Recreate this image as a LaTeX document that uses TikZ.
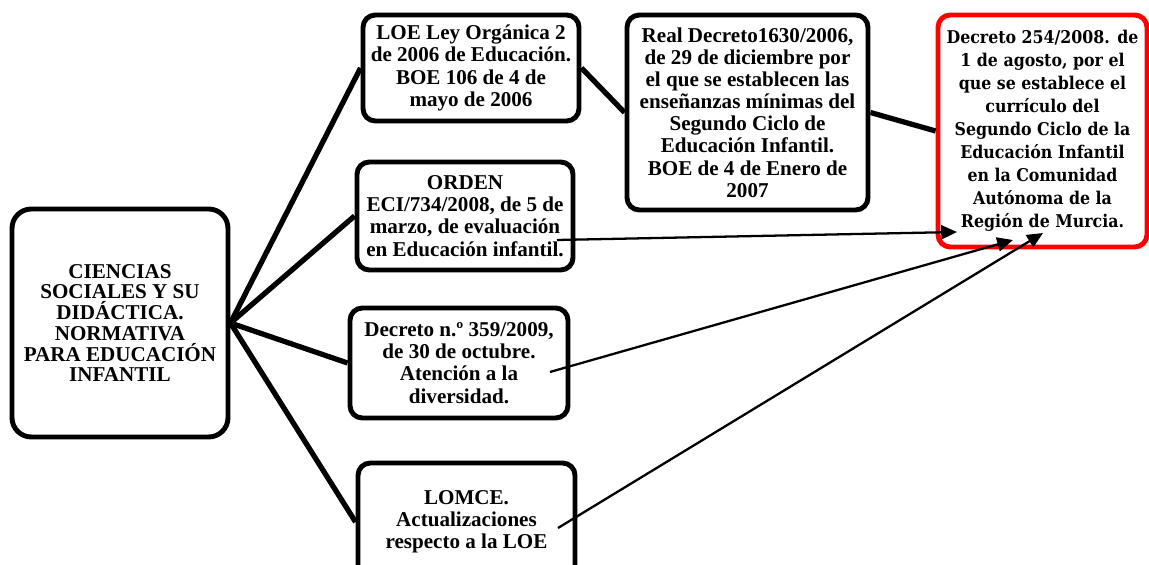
\documentclass[tikz,border=0pt]{standalone}
\usepackage{fontspec}
\setmainfont{Liberation Serif}
\newfontfamily\murciafont{DejaVu Serif Condensed}
\usetikzlibrary{arrows.meta}

\tikzset{
  norma/.style={draw, line width=2.8pt, rounded corners=7pt, fill=white, align=center,
    inner sep=2pt, font=\bfseries\fontsize{12}{12.6}\selectfont},
  enlace/.style={line width=3pt},
  flecha/.style={line width=1.3pt, -{Triangle[length=9pt,width=8pt]}}
}

\begin{document}
\begin{tikzpicture}
  \useasboundingbox (0,0) rectangle (22.98,-11.3);

  \node[norma, rounded corners=11pt, font=\bfseries\fontsize{12}{11.8}\selectfont,
    minimum width=4.32cm, minimum height=4.56cm] (ciencias) at (2.4,-6.46)
    {CIENCIAS\\SOCIALES Y SU\\DIDÁCTICA.\\NORMATIVA\\PARA EDUCACIÓN\\INFANTIL};

  \node[norma, minimum width=4.32cm, minimum height=2.12cm] (loe) at (9.42,-1.36)
    {LOE Ley Orgánica 2\\de 2006 de Educación.\\BOE 106 de 4 de\\mayo de 2006};
  \node[norma, minimum width=4.32cm, minimum height=2.16cm] (orden) at (9.3,-4.32)
    {ORDEN\\ECI/734/2008, de 5 de\\marzo, de evaluación\\en Educación infantil.};
  \node[norma, minimum width=4.36cm, minimum height=2.2cm] (decreto359) at (9.18,-7.26)
    {Decreto n.º 359/2009,\\de 30 de octubre.\\Atención a la\\diversidad.};
  \node[norma, minimum width=4.34cm, minimum height=2.36cm] (lomce) at (9.33,-10.44)
    {LOMCE.\\Actualizaciones\\respecto a la LOE};

  \node[norma, minimum width=4.82cm, minimum height=3.9cm] (realdecreto) at (14.95,-2.25)
    {Real Decreto1630/2006,\\de 29 de diciembre por\\el que se establecen las\\enseñanzas mínimas del\\Segundo Ciclo de\\Educación Infantil.\\BOE de 4 de Enero de\\2007};

  \node[norma, draw=red, font=\murciafont\bfseries\fontsize{10}{13.1}\selectfont,
    minimum width=4.18cm, minimum height=4.64cm] (murcia) at (20.85,-2.62)
    {Decreto 254/2008. de\\1 de agosto, por el\\que se establece el\\currículo del\\Segundo Ciclo de la\\Educación Infantil\\en la Comunidad\\Autónoma de la\\Región de Murcia.};

  \draw[enlace] (ciencias.east) -- (loe.west);
  \draw[enlace] (ciencias.east) -- (orden.west);
  \draw[enlace] (ciencias.east) -- (decreto359.west);
  \draw[enlace] (ciencias.east) -- (lomce.west);
  \draw[enlace] (loe.east) -- (realdecreto.west);
  \draw[enlace] (realdecreto.east) -- (murcia.west);

  \draw[flecha] ([shift={(1.84,-0.48)}]orden.center) -- ([shift={(-1.71,-2.02)}]murcia.center);
  \draw[flecha] ([shift={(1.82,-0.18)}]decreto359.center) -- ([shift={(-0.59,-2.18)}]murcia.center);
  \draw[flecha] ([shift={(1.83,-0.12)}]lomce.center) -- ([shift={(0.01,-2.04)}]murcia.center);
\end{tikzpicture}
\end{document}
